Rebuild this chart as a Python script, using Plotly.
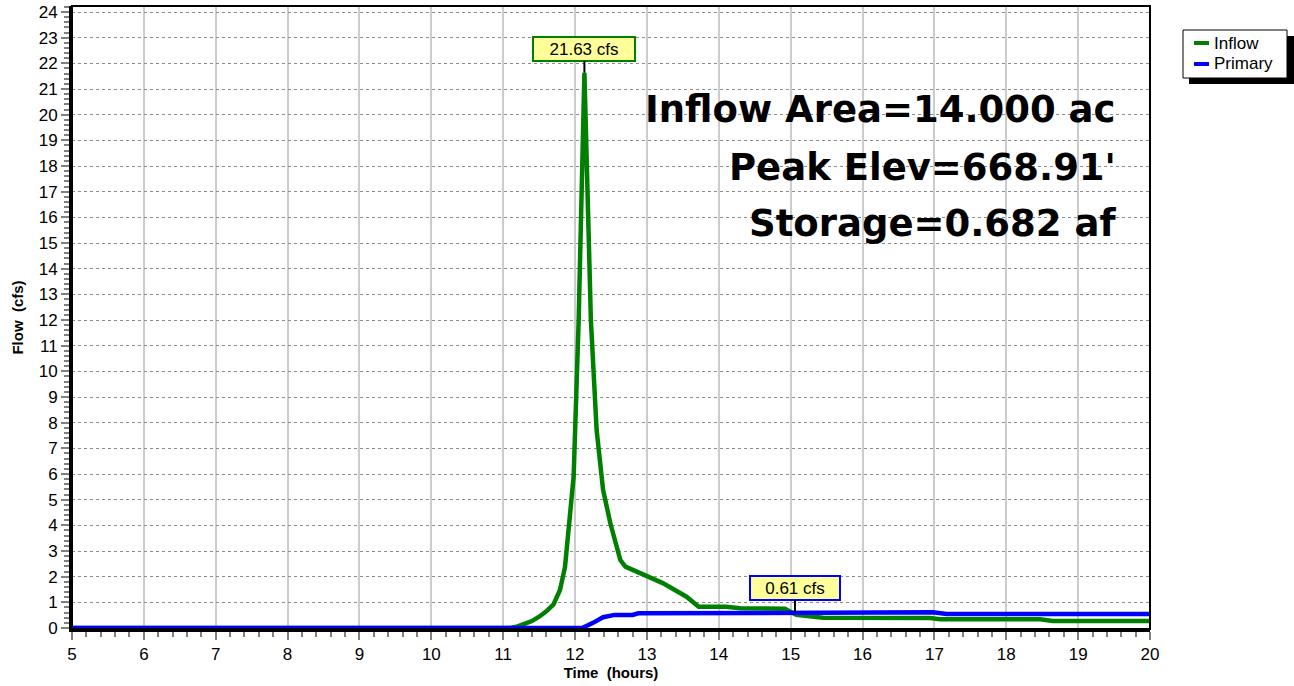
import plotly.graph_objects as go

# ---- data ----
inflow_t = [5.0, 11.10, 11.20, 11.30, 11.40, 11.50, 11.60, 11.70, 11.79, 11.86, 11.93, 11.98,
            12.05, 12.13, 12.22, 12.25, 12.30, 12.39, 12.49, 12.63, 12.70, 13.22, 13.55, 13.72,
            14.10, 14.30, 14.92, 15.08, 15.45, 16.94, 17.08, 18.47, 18.65, 20.0]
inflow_q = [0.0, 0.0, 0.06, 0.15, 0.27, 0.44, 0.65, 0.92, 1.48, 2.38, 4.73, 5.90,
            12.0, 21.63, 12.0, 10.05, 7.71, 5.38, 4.09, 2.65, 2.39, 1.75, 1.22, 0.83,
            0.83, 0.77, 0.75, 0.51, 0.40, 0.39, 0.34, 0.34, 0.27, 0.27]
primary_t = [5.0, 12.10, 12.25, 12.39, 12.55, 12.80, 12.88, 13.37, 13.48, 16.98, 17.17, 20.0]
primary_q = [0.0, 0.0, 0.20, 0.42, 0.51, 0.51, 0.57, 0.57, 0.61, 0.61, 0.55, 0.55]

series_names = ["Inflow", "Primary"]
series_colors = ["#008000", "#0000FF"]
peak_labels = ["21.63 cfs", "0.61 cfs"]
peak_points = [(12.13, 21.63), (15.06, 0.61)]
info_lines = ["Inflow Area=14.000 ac", "Peak Elev=668.91'", "Storage=0.682 af"]
x_ticks = list(range(5, 21))
y_ticks = list(range(0, 25))

FONT = "Arial, Liberation Sans, sans-serif"

W, H = 1294, 686
ML, MR, MT, MB = 72, 144, 6, 57
PW = W - ML - MR
PH = H - MT - MB
Y0_PX, Y24_PX = 628, 12  # pixel rows of y=0 and y=24


def px_x(p):  # page pixel -> paper x
    return (p - ML) / PW


def px_y(p):  # page pixel -> paper y
    return (MT + PH - p) / PH


fig = go.Figure()
fig.add_trace(go.Scatter(x=inflow_t, y=inflow_q, mode="lines", name=series_names[0],
                         line=dict(color=series_colors[0], width=4.5), showlegend=False))
fig.add_trace(go.Scatter(x=primary_t, y=primary_q, mode="lines", name=series_names[1],
                         line=dict(color=series_colors[1], width=4.5), showlegend=False))

axis_common = dict(
    showline=True, linecolor="black", linewidth=3, mirror=False,
    ticks="outside", ticklen=8, tickwidth=2, tickcolor="#808080",
    tickfont=dict(family=FONT, size=17, color="black"),
    zeroline=False, automargin=False,
)

ppu = (Y0_PX - Y24_PX) / 24.0
y_lo = -((MT + PH) - Y0_PX) / ppu
y_hi = (Y0_PX - MT) / ppu

fig.update_xaxes(range=[5, 20], tickvals=x_ticks, showgrid=True, gridcolor="#CCCCCC", gridwidth=2,
                 minor=dict(dtick=0.2, ticks="outside", ticklen=5, tickwidth=2, tickcolor="#808080", showgrid=False),
                 title=dict(text="<b>Time\u00a0 (hours)</b>", font=dict(family=FONT, size=15, color="black"), standoff=2),
                 **axis_common)
fig.update_yaxes(range=[y_lo, y_hi], tickvals=y_ticks, showgrid=True, gridcolor="#8C8C8C", gridwidth=1,
                 griddash="dot", ticklabeloverflow="allow",
                 minor=dict(dtick=0.2, ticks="outside", ticklen=5, tickwidth=2, tickcolor="#808080", showgrid=False),
                 title=dict(text="<b>Flow\u00a0 (cfs)</b>", font=dict(family=FONT, size=15, color="black"), standoff=12),
                 **axis_common)

# frame (top/right)
fig.add_shape(type="rect", xref="paper", yref="paper", x0=0, y0=0, x1=1, y1=1,
              line=dict(color="black", width=2), layer="above")

# peak label boxes
box_borders = ["#008000", "#0000FF"]
offsets = [-24, -24]
widths = [98, 86]
for (px, py), lab, bc, ay, w in zip(peak_points, peak_labels, box_borders, offsets, widths):
    fig.add_annotation(x=px, y=py, text=lab, showarrow=True, arrowhead=0, arrowwidth=2,
                       arrowcolor="black", ax=0, ay=ay, standoff=0, width=w, height=20,
                       bgcolor="#FFFF99", bordercolor=bc, borderwidth=2, borderpad=1,
                       font=dict(family=FONT, size=17, color="black"))

# info text
info_y = [110, 168, 224]
for line, yy in zip(info_lines, info_y):
    fig.add_annotation(xref="paper", yref="paper", x=px_x(1118), y=px_y(yy),
                       xanchor="right", yanchor="middle", text=f"<b>{line}</b>", showarrow=False,
                       font=dict(family="DejaVu Sans", size=37, color="black"))

# manual legend
fig.add_shape(type="rect", xref="paper", yref="paper", x0=px_x(1189), x1=px_x(1294), y0=px_y(84), y1=px_y(36),
              fillcolor="black", line=dict(width=0), layer="above")
fig.add_shape(type="rect", xref="paper", yref="paper", x0=px_x(1183), x1=px_x(1287), y0=px_y(78), y1=px_y(30),
              fillcolor="white", line=dict(color="black", width=1), layer="above")
for i, (nm, col) in enumerate(zip(series_names, series_colors)):
    yy = 43 + i * 21
    fig.add_shape(type="line", xref="paper", yref="paper", x0=px_x(1194), x1=px_x(1209), y0=px_y(yy), y1=px_y(yy),
                  line=dict(color=col, width=4), layer="above")
    fig.add_annotation(xref="paper", yref="paper", x=px_x(1212), y=px_y(yy), xanchor="left", yanchor="middle",
                       text=nm, showarrow=False, font=dict(family=FONT, size=17, color="black"))

fig.update_layout(
    width=W, height=H,
    margin=dict(l=ML, r=MR, t=MT, b=MB, autoexpand=False),
    paper_bgcolor="white", plot_bgcolor="white",
    font=dict(family=FONT, color="black"),
    showlegend=False,
)

fig.write_html("out.html", config={"displayModeBar": False},
               post_script="document.body.style.margin='0';")
